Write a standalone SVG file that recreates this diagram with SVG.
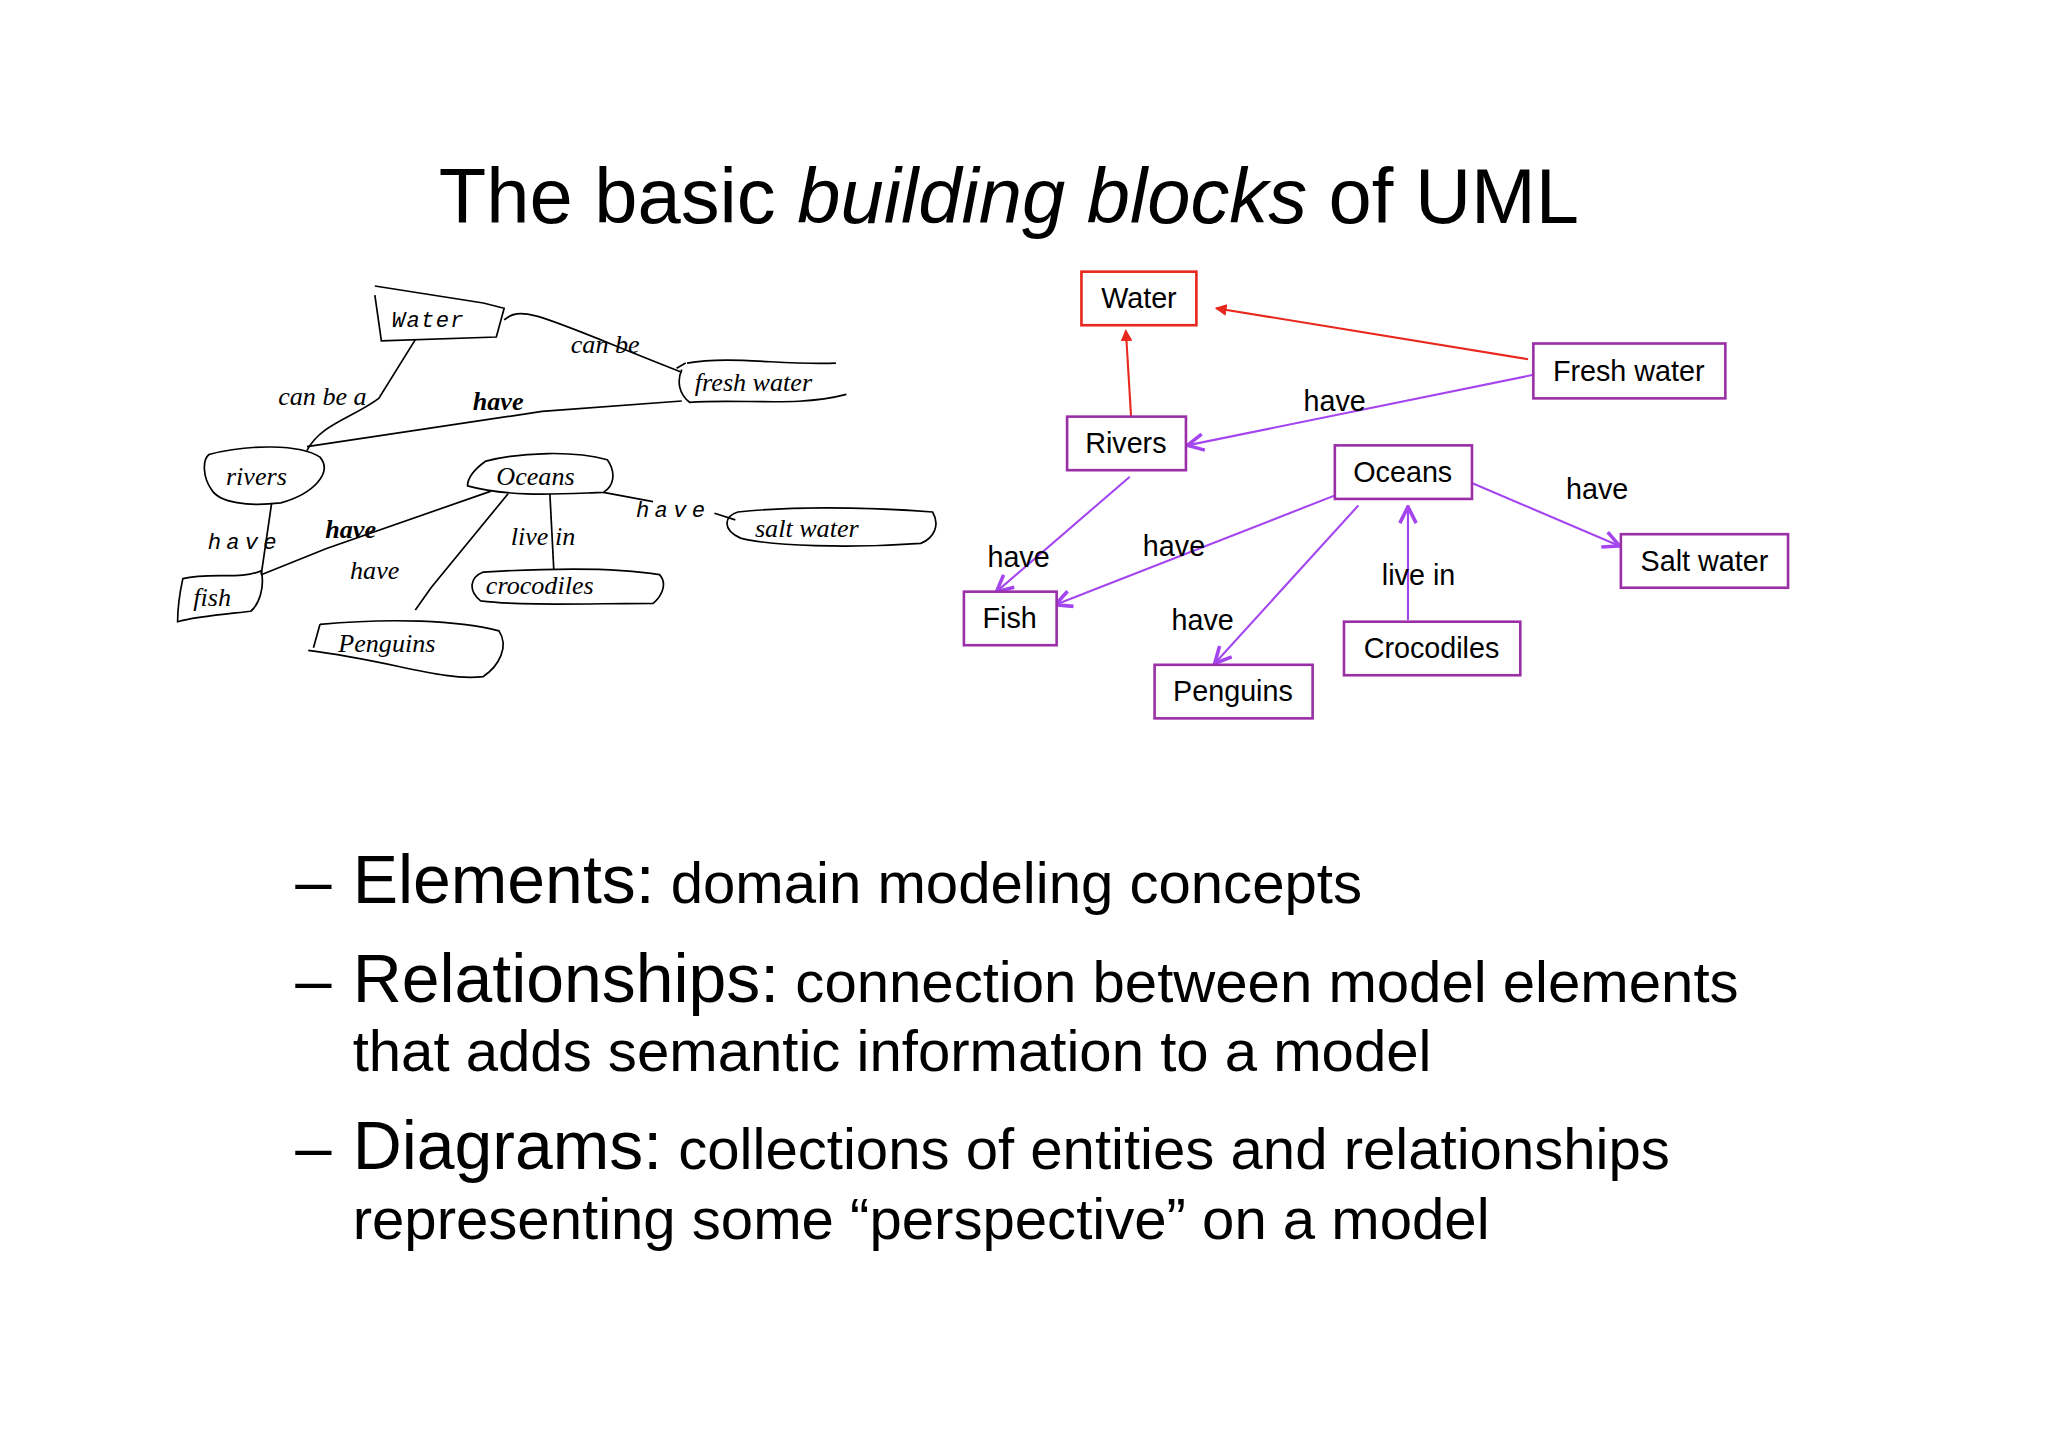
<svg xmlns="http://www.w3.org/2000/svg" width="2048" height="1447" viewBox="0 0 2048 1447">
<style>
.sans{font-family:"Liberation Sans",Arial,sans-serif;fill:#000}
.box{fill:#fff;stroke:#9b2fa8;stroke-width:2}
.rbox{fill:#fff;stroke:#e8281c;stroke-width:2}
.lbl{font-family:"Liberation Sans",Arial,sans-serif;font-size:22px}
.pl{stroke:#a445f0;stroke-width:1.6;fill:none}
.rl{stroke:#e8281c;stroke-width:1.6;fill:none}
.hd{stroke:#000;stroke-width:1.3;fill:none}
.ht{font-family:"Liberation Serif","Times New Roman",serif;font-style:italic;font-size:20px}
.hm{font-family:"Liberation Mono","Courier New",monospace;font-style:italic;font-size:17px}
</style>
<defs>
<marker id="ar" viewBox="0 0 10 10" refX="9" refY="5" markerWidth="9" markerHeight="9" orient="auto" markerUnits="userSpaceOnUse"><path d="M0,0 L10,5 L0,10 z" fill="#e8281c"/></marker>
<marker id="ap" viewBox="0 0 12 12" refX="11" refY="6" markerWidth="15" markerHeight="15" orient="auto" markerUnits="userSpaceOnUse"><path d="M1,1 L11,6 L1,11" fill="none" stroke="#a445f0" stroke-width="2.2"/></marker>
</defs>
<rect width="2048" height="1447" fill="#fff"/>
<g transform="scale(1.3061)">
<text class="sans" x="336" y="171" font-size="59.5">The basic <tspan font-style="italic">building blocks</tspan> of UML</text>

<g id="hand">
<path class="hd" d="M287,219 L370,232 L386,236 L380,258 L292,261 L287,226"/>
<text class="hm" x="300" y="250" letter-spacing="1">Water</text>
<path class="hd" d="M386,245 C400,232 420,245 522,285 M518,282 L525,278"/>
<text class="ht" x="437" y="270">can be</text>
<path class="hd" d="M526,278 C560,272 600,280 640,278 M522,283 C518,292 520,302 528,308 C570,305 610,312 648,302"/>
<text class="ht" x="532" y="299">fresh water</text>
<path class="hd" d="M318,260 L290,305 C270,320 245,325 235,345"/>
<text class="ht" x="213" y="310">can be a</text>
<path class="hd" d="M235,342 L415,315 L522,307"/>
<text class="ht" x="362" y="314" font-weight="bold" font-size="22">have</text>
<path class="hd" d="M160,348 C190,340 230,340 245,350 C255,362 240,378 215,385 C190,388 168,385 162,375 C155,365 155,352 160,348 Z"/>
<text class="ht" x="173" y="371">rivers</text>
<path class="hd" d="M372,353 C400,346 440,345 465,352 C472,362 470,372 462,377 C430,378 390,381 358,372 C358,365 365,358 372,353 Z"/>
<text class="ht" x="380" y="371">Oceans</text>
<path class="hd" d="M462,377 L500,384 M547,393 L563,398"/>
<text class="hm" x="487" y="396" letter-spacing="4">have</text>
<path class="hd" d="M565,392 C620,386 690,390 714,392 C720,402 715,412 705,416 C650,420 590,418 567,412 C552,405 555,395 565,392 Z"/>
<text class="ht" x="578" y="411" font-size="21">salt water</text>
<path class="hd" d="M421,378 L424,436"/>
<text class="ht" x="391" y="417" font-size="18">live in</text>
<path class="hd" d="M370,438 C420,435 470,434 505,440 C512,448 505,458 500,462 C450,462 400,464 368,460 C358,452 360,442 370,438 Z"/>
<text class="ht" x="372" y="455">crocodiles</text>
<path class="hd" d="M389,378 L330,450 L318,467"/>
<text class="ht" x="268" y="443" font-size="22">have</text>
<path class="hd" d="M376,376 L250,420 L200,440"/>
<text class="ht" x="249" y="412" font-weight="bold">have</text>
<path class="hd" d="M208,385 L200,440"/>
<text class="hm" x="159" y="420" letter-spacing="4">have</text>
<path class="hd" d="M140,443 C160,438 185,444 200,437 C203,450 198,463 192,468 C175,470 150,472 136,476 C136,465 138,452 140,443 Z"/>
<text class="ht" x="148" y="464">fish</text>
<path class="hd" d="M245,478 C300,473 350,475 382,483 C390,495 382,510 370,518 C340,522 300,506 236,498 M245,478 L240,496"/>
<text class="ht" x="259" y="499" font-size="21">Penguins</text>
</g>

<g id="connectors">
<line class="rl" x1="1170" y1="275" x2="931" y2="236" marker-end="url(#ar)"/>
<line class="rl" x1="866" y1="319" x2="862" y2="253" marker-end="url(#ar)"/>
<line class="pl" x1="1174" y1="287" x2="909" y2="341" marker-end="url(#ap)"/>
<line class="pl" x1="865" y1="365" x2="763" y2="453" marker-end="url(#ap)"/>
<line class="pl" x1="1028" y1="377" x2="808" y2="463" marker-end="url(#ap)"/>
<line class="pl" x1="1040" y1="387" x2="930" y2="508" marker-end="url(#ap)"/>
<line class="pl" x1="1078" y1="475" x2="1078" y2="388" marker-end="url(#ap)"/>
<line class="pl" x1="1118" y1="366" x2="1240" y2="418" marker-end="url(#ap)"/>
<text class="lbl" x="998" y="315">have</text>
<text class="lbl" x="756" y="434">have</text>
<text class="lbl" x="875" y="426">have</text>
<text class="lbl" x="897" y="482">have</text>
<text class="lbl" x="1058" y="448">live in</text>
<text class="lbl" x="1199" y="382">have</text>
</g>

<g id="n-water"><rect class="rbox" x="828" y="208" width="88" height="41"/><text class="lbl" x="872" y="236" text-anchor="middle">Water</text></g>
<g id="n-fresh"><rect class="box" x="1174" y="263" width="147" height="42"/><text class="lbl" x="1247" y="292" text-anchor="middle">Fresh water</text></g>
<g id="n-rivers"><rect class="box" x="817" y="319" width="91" height="41"/><text class="lbl" x="862" y="347" text-anchor="middle">Rivers</text></g>
<g id="n-oceans"><rect class="box" x="1022" y="341" width="105" height="41"/><text class="lbl" x="1074" y="369" text-anchor="middle">Oceans</text></g>
<g id="n-salt"><rect class="box" x="1241" y="409" width="128" height="41"/><text class="lbl" x="1305" y="437" text-anchor="middle">Salt water</text></g>
<g id="n-fish"><rect class="box" x="738" y="453" width="71" height="41"/><text class="lbl" x="773" y="481" text-anchor="middle">Fish</text></g>
<g id="n-penguins"><rect class="box" x="884" y="509" width="121" height="41"/><text class="lbl" x="944" y="537" text-anchor="middle">Penguins</text></g>
<g id="n-croc"><rect class="box" x="1029" y="476" width="135" height="41"/><text class="lbl" x="1096" y="504" text-anchor="middle">Crocodiles</text></g>

<g class="sans">
<text x="226" y="691" font-size="50">–</text><text x="270" y="691" font-size="44.5"><tspan font-size="52">Elements:</tspan> domain modeling concepts</text>
<text x="226" y="767" font-size="50">–</text><text x="270" y="767" font-size="44.5"><tspan font-size="52">Relationships:</tspan> connection between model elements</text>
<text x="270" y="820" font-size="44.5">that adds semantic information to a model</text>
<text x="226" y="895" font-size="50">–</text><text x="270" y="895" font-size="44.5"><tspan font-size="52">Diagrams:</tspan> collections of entities and relationships</text>
<text x="270" y="949" font-size="44.5">representing some “perspective” on a model</text>
</g>
</g>
</svg>
